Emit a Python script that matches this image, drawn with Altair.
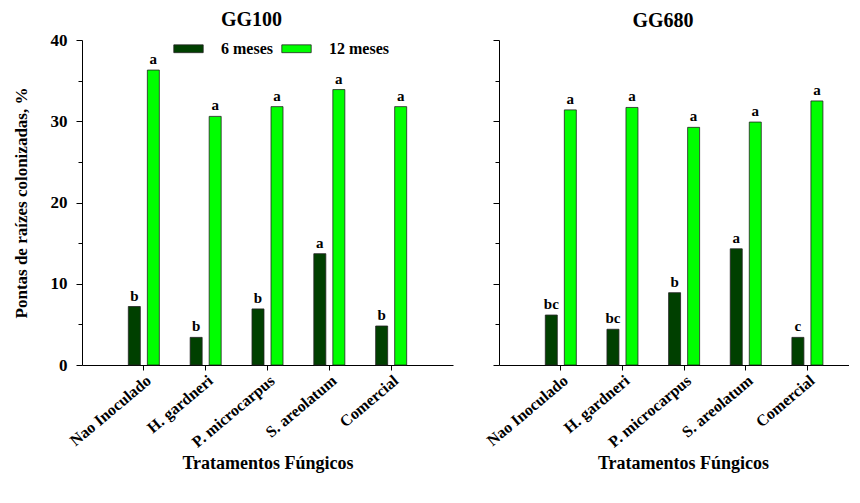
import altair as alt
import pandas as pd

categories = ["Nao Inoculado", "H. gardneri", "P. microcarpus", "S. areolatum", "Comercial"]
series = ["6 meses", "12 meses"]
colors = ["#004000", "#00ff00"]

gg100_6m = [7.2, 3.4, 6.9, 13.7, 4.8]
gg100_12m = [36.3, 30.6, 31.8, 33.9, 31.8]
gg100_letters_6m = ["b", "b", "b", "a", "b"]
gg100_letters_12m = ["a", "a", "a", "a", "a"]

gg680_6m = [6.15, 4.4, 8.9, 14.3, 3.4]
gg680_12m = [31.4, 31.7, 29.25, 29.9, 32.5]
gg680_letters_6m = ["bc", "bc", "b", "a", "c"]
gg680_letters_12m = ["a", "a", "a", "a", "a"]

FONT = "'Liberation Serif', 'Times New Roman', Times, 'DejaVu Serif', serif"


def make_df(v6, v12, l6, l12):
    rows = []
    for i, c in enumerate(categories):
        rows.append({"cat": c, "serie": series[0], "value": v6[i], "letter": l6[i]})
        rows.append({"cat": c, "serie": series[1], "value": v12[i], "letter": l12[i]})
    return pd.DataFrame(rows)


def panel(df, title, width, left, xscale, title_offset, title_dx, xtitle_x=None):
    yaxis = alt.Axis(
        values=[0, 5, 10, 15, 20, 25, 30, 35, 40],
        labelExpr="datum.value % 10 === 0 ? datum.label : ''",
        labels=left,
        tickSize={"condition": {"test": "datum.value % 10 === 0", "value": 6}, "value": 4},
        labelFont=FONT, labelFontWeight="bold", labelFontSize=17, labelPadding=9,
        titleFont=FONT, titleFontWeight="bold", titleFontSize=17, titlePadding=20,
        domainColor="black", tickColor="black", grid=False,
        title="Pontas de raízes colonizadas, %" if left else None,
    )
    xkw = dict(
        labelAngle=-40, labelAlign="right", labelBaseline="top",
        labelFont=FONT, labelFontWeight="bold", labelFontSize=16, labelPadding=2,
        titleFont=FONT, titleFontWeight="bold", titleFontSize=18, titlePadding=5,
        domainColor="black", tickColor="black", tickSize=5, grid=False,
        title="Tratamentos Fúngicos",
    )
    if xtitle_x is not None:
        xkw["titleX"] = xtitle_x
        xkw["titleAlign"] = "center"
    xaxis = alt.Axis(**xkw)
    base = alt.Chart(df).encode(
        x=alt.X("cat:N", sort=categories, scale=xscale, axis=xaxis),
        xOffset=alt.XOffset("serie:N", sort=series,
                            scale=alt.Scale(domain=series, paddingInner=0.37, paddingOuter=0.81)),
        y=alt.Y("value:Q", scale=alt.Scale(domain=[0, 40], nice=False), axis=yaxis),
    )
    if left:
        leg = alt.Legend(
            orient="none", legendX=92, legendY=-6, direction="horizontal", title=None,
            symbolType="M-1.05,-0.28H1.05V0.28H-1.05Z", symbolSize=784,
            symbolStrokeColor="#222", symbolStrokeWidth=0.8,
            labelFont=FONT, labelFontWeight="bold", labelFontSize=16,
            labelOffset=18, columnPadding=7,
        )
    else:
        leg = None
    bars = base.mark_bar(stroke="#222", strokeWidth=0.8).encode(
        color=alt.Color("serie:N", sort=series,
                        scale=alt.Scale(domain=series, range=colors), legend=leg)
    )
    text = base.mark_text(baseline="bottom", dy=-3, font=FONT, fontWeight="bold",
                          fontSize=15, color="black").encode(text="letter:N")
    return alt.layer(bars, text).properties(
        width=width, height=325,
        title=alt.TitleParams(title, font=FONT, fontWeight="bold", fontSize=20,
                              anchor="middle", frame="group", dx=title_dx,
                              offset=title_offset),
    )


left = panel(make_df(gg100_6m, gg100_12m, gg100_letters_6m, gg100_letters_12m),
             "GG100", 371, True,
             alt.Scale(paddingOuter=0.5, paddingInner=0), 1, -16)
right = panel(make_df(gg680_6m, gg680_12m, gg680_letters_6m, gg680_letters_12m),
              "GG680", 350, False,
              alt.Scale(paddingOuter=0.3386, paddingInner=0, align=0.74), 9, -11,
              xtitle_x=184)

chart = alt.hconcat(left, right, spacing=30).resolve_legend(color="independent").properties(
    padding={"left": 4, "top": 2, "right": 0, "bottom": 0}
).configure_view(stroke=None)

chart.save("out.html", embed_options={"renderer": "svg", "actions": False})
